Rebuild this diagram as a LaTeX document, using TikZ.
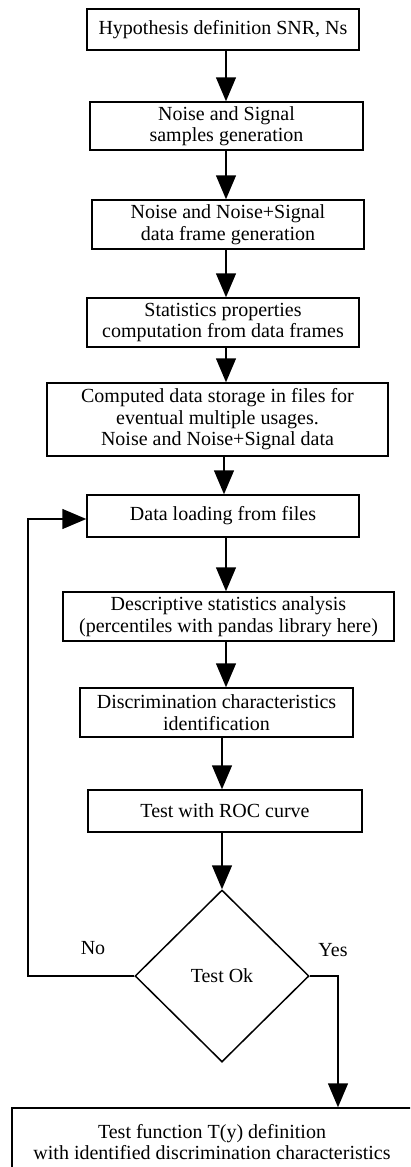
\documentclass[tikz,border=0pt]{standalone}
\usepackage{fontspec}
\setmainfont{Liberation Serif}
\usetikzlibrary{shapes.geometric,arrows.meta}
\begin{document}
\begin{tikzpicture}[x=1pt,y=-1pt,
 box/.style={draw,line width=1.5pt,rectangle,align=center,inner sep=0pt,font=\fontsize{20}{21.5}\selectfont},
 arr/.style={line width=1.5pt,-{Triangle[length=24pt,width=20pt]}},
 lab/.style={font=\fontsize{20}{21.5}\selectfont,inner sep=0pt}]
\fill[white] (0,0) rectangle (410,1167);
\useasboundingbox (0,0) rectangle (410,1167);
\clip (0,0) rectangle (410,1167);
\node[box,minimum width=272pt,minimum height=41pt] (b1) at (223,29.5) {Hypothesis definition SNR, Ns};
\node[box,minimum width=273pt,minimum height=48pt] (b2) at (226.5,126) {Noise and Signal\\samples generation};
\node[box,minimum width=272pt,minimum height=49pt] (b3) at (228,224.5) {Noise and Noise+Signal\\data frame generation};
\node[box,minimum width=272pt,minimum height=49pt] (b4) at (223,322.5) {Statistics properties\\computation from data frames};
\node[box,minimum width=341pt,minimum height=73pt] (b5) at (217.5,419.5) {Computed data storage in files for\\eventual multiple usages.\\Noise and Noise+Signal data};
\node[box,minimum width=272pt,minimum height=42pt] (b6) at (223,516) {Data loading from files};
\node[box,minimum width=331pt,minimum height=49pt] (b7) at (228.5,616.5) {Descriptive statistics analysis\\(percentiles with pandas library here)};
\node[box,minimum width=273pt,minimum height=49pt] (b8) at (216.5,712.5) {Discrimination characteristics\\identification};
\node[box,minimum width=274pt,minimum height=42pt] (b9) at (225,811) {Test with ROC curve};
\node[box,diamond,minimum width=174pt,minimum height=172pt] (d) at (222,976) {Test Ok};
\node[box,minimum width=400pt,minimum height=68pt] (b10) at (212,1142) {Test function T(y) definition\\with identified discrimination characteristics};
\node[lab] (no) at (93,948) {No};
\node[lab] (yes) at (333,950) {Yes};
\coordinate (xa) at (226,0);
\coordinate (xb) at (224,0);
\coordinate (xc) at (222,0);
\coordinate (fb) at (28,519);
\coordinate (ya) at (338,0);
\draw[arr] (b1.south -| xa) -- (b2.north -| xa);
\draw[arr] (b2.south -| xa) -- (b3.north -| xa);
\draw[arr] (b3.south -| xa) -- (b4.north -| xa);
\draw[arr] (b4.south -| xa) -- (b5.north -| xa);
\draw[arr] (b5.south -| xb) -- (b6.north -| xb);
\draw[arr] (b6.south -| xa) -- (b7.north -| xa);
\draw[arr] (b7.south -| xa) -- (b8.north -| xa);
\draw[arr] (b8.south -| xc) -- (b9.north -| xc);
\draw[arr] (b9.south -| xc) -- (d.north);
\draw[arr] (d.west) -| (fb) -- (fb -| b6.west);
\draw[arr] (d.east) -| (b10.north -| ya);
\end{tikzpicture}
\end{document}
